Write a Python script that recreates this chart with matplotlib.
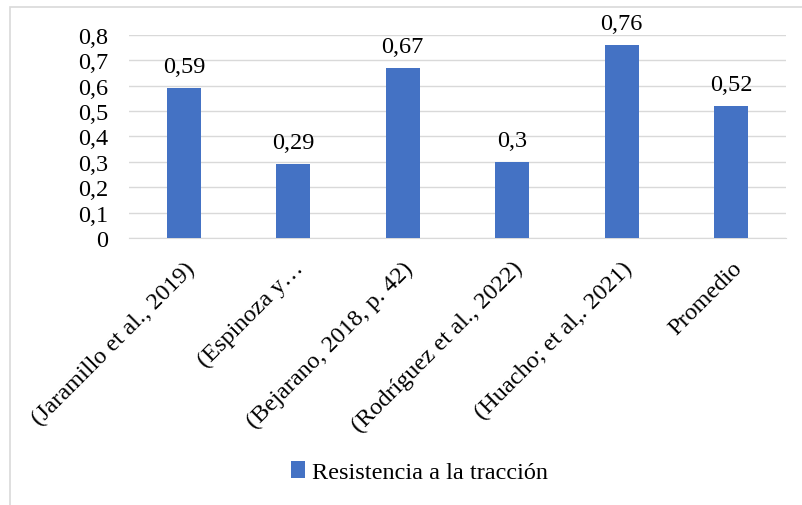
import matplotlib.pyplot as plt
from matplotlib.patches import Rectangle
from matplotlib.ticker import FuncFormatter

# Tensile strength values by source
categories = [
    "(Jaramillo et al., 2019)",
    "(Espinoza y\u2026",
    "(Bejarano, 2018, p. 42)",
    "(Rodríguez et al., 2022)",
    "(Huacho; et al,. 2021)",
    "Promedio",
]
values = [0.59, 0.29, 0.67, 0.30, 0.76, 0.52]
value_labels = ["0,59", "0,29", "0,67", "0,3", "0,76", "0,52"]

plt.rcParams["font.family"] = ["Liberation Serif", "DejaVu Serif"]
plt.rcParams["font.size"] = 17.5

fig = plt.figure(figsize=(8.02, 5.06), dpi=100)
ax = fig.add_axes([0.161, 0.5277, 0.819, 0.4012])

# light chart border
fig.patches.append(Rectangle((10 / 802, -0.1), 1.2, 1.1 - 8 / 506,
                             transform=fig.transFigure, fill=False,
                             edgecolor="#D9D9D9", linewidth=1.2))

x = range(len(categories))
bars = ax.bar(x, values, width=0.31, color="#4472C4",
              label="Resistencia a la tracción", zorder=3)

for bar, lab in zip(bars, value_labels):
    ax.annotate(lab, (bar.get_x() + bar.get_width() / 2, bar.get_height()),
                xytext=(0, 8), textcoords="offset points",
                ha="center", va="bottom")

ax.set_xlim(-0.5, len(categories) - 0.5)
ax.set_ylim(0, 0.8)
ax.set_yticks([i / 10 for i in range(9)])
ax.yaxis.set_major_formatter(FuncFormatter(
    lambda v, p: "0" if v == 0 else f"{v:.1f}".replace(".", ",")))
ax.grid(axis="y", color="#D9D9D9", linewidth=1, zorder=0)
ax.tick_params(axis="y", length=0, pad=15)
ax.tick_params(axis="x", length=0, pad=14)
ax.set_xticks(list(x))
ax.set_xticklabels(categories, rotation=45, ha="right", rotation_mode="anchor")
for s in ["top", "right", "left"]:
    ax.spines[s].set_visible(False)
ax.spines["bottom"].set_color("#D9D9D9")

fig.legend(handles=[bars], labels=["Resistencia a la tracción"],
           loc="center", bbox_to_anchor=(0.523, 1 - 473 / 506), frameon=False,
           handlelength=0.6, handleheight=0.7, handletextpad=0.3)

fig.savefig("out.png", dpi=100)
